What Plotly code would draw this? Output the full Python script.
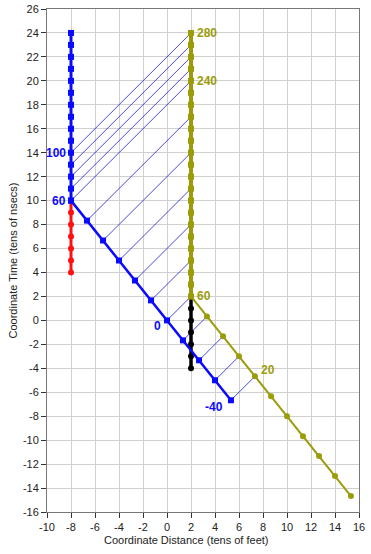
import plotly.graph_objects as go

# ---- data (tens of feet / tens of nsecs) ----
blue_vert_x = [-8] * 15
blue_vert_y = [10, 11, 12, 13, 14, 15, 16, 17, 18, 19, 20, 21, 22, 23, 24]

blue_diag_x = [-8, -6.67, -5.33, -4, -2.67, -1.33, 0, 1.33, 2.67, 4, 5.33]
blue_diag_y = [10, 8.33, 6.67, 5, 3.33, 1.67, 0, -1.67, -3.33, -5, -6.67]

red_x = [-8] * 7
red_y = [4, 5, 6, 7, 8, 9, 10]

olive_vert_x = [2] * 23
olive_vert_y = [2, 3, 4, 5, 6, 7, 8, 9, 10, 11, 12, 13, 14, 15, 16, 17, 18, 19, 20, 21, 22, 23, 24]

olive_diag_x = [2, 3.33, 4.67, 6, 7.33, 8.67, 10, 11.33, 12.67, 14, 15.33]
olive_diag_y = [2, 0.33, -1.33, -3, -4.67, -6.33, -8, -9.67, -11.33, -13, -14.67]

black_x = [2] * 7
black_y = [-4, -3, -2, -1, 0, 1, 2]

# light signals: start (blue worldline) -> end (olive worldline)
sig_x0 = [-8, -8, -8, -8, -8, -6.67, -5.33, -4, -2.67, -1.33, 0, 1.33, 2.67, 4, 5.33]
sig_y0 = [10, 11, 12, 13, 14, 8.33, 6.67, 5, 3.33, 1.67, 0, -1.67, -3.33, -5, -6.67]
sig_x1 = [2, 2, 2, 2, 2, 2, 2, 2, 2, 2, 2, 3.33, 4.67, 6, 7.33]
sig_y1 = [20, 21, 22, 23, 24, 17, 14, 11, 8, 5, 2, 0.33, -1.33, -3, -4.67]

# proper-time labels
blue_lbl_text = ["100", "60", "0", "-40"]
blue_lbl_x = [-8, -8, 0, 5.33]
blue_lbl_y = [14, 10, 0, -6.67]
olive_lbl_text = ["280", "240", "60", "20"]
olive_lbl_x = [2, 2, 2, 7.33]
olive_lbl_y = [24, 20, 2, -4.67]

x_ticks = list(range(-10, 17, 2))
y_ticks = list(range(-16, 27, 2))
x_ticklabels = [str(v) for v in x_ticks]
y_ticklabels = [str(v) for v in y_ticks]

BLUE = "#0a0aff"
OLIVE = "#9c9c0a"
RED = "#ff1010"
FONT = "Liberation Sans, Arial"

fig = go.Figure()

sx, sy = [], []
for a, b, c, d in zip(sig_x0, sig_y0, sig_x1, sig_y1):
    sx += [a, c, None]
    sy += [b, d, None]
fig.add_trace(go.Scatter(x=sx, y=sy, mode="lines",
                         line=dict(color="#1a1ad0", width=0.8), hoverinfo="skip"))

fig.add_trace(go.Scatter(x=red_x, y=red_y, mode="lines+markers",
                         line=dict(color=RED, width=3),
                         marker=dict(color=RED, size=6)))
fig.add_trace(go.Scatter(x=black_x, y=black_y, mode="lines+markers",
                         line=dict(color="black", width=3.5),
                         marker=dict(color="black", size=6)))
fig.add_trace(go.Scatter(x=olive_diag_x, y=olive_diag_y, mode="lines+markers",
                         line=dict(color=OLIVE, width=2),
                         marker=dict(color=OLIVE, size=6)))
fig.add_trace(go.Scatter(x=olive_vert_x, y=olive_vert_y, mode="lines+markers",
                         line=dict(color=OLIVE, width=4),
                         marker=dict(color=OLIVE, size=6, symbol="square")))
fig.add_trace(go.Scatter(x=blue_vert_x, y=blue_vert_y, mode="lines+markers",
                         line=dict(color=BLUE, width=3),
                         marker=dict(color=BLUE, size=6, symbol="square")))
fig.add_trace(go.Scatter(x=blue_diag_x, y=blue_diag_y, mode="lines+markers",
                         line=dict(color=BLUE, width=2.5),
                         marker=dict(color=BLUE, size=6, symbol="square")))

lblfont = dict(family=FONT, size=12)
blue_shift = [(-3, 0), (-3, 0), (-4, 6), (-6, 7)]
for t, x, y, (dx, dy) in zip(blue_lbl_text, blue_lbl_x, blue_lbl_y, blue_shift):
    fig.add_annotation(x=x, y=y, text="<b>" + t + "</b>", showarrow=False,
                       xanchor="right", yanchor="middle", xshift=dx, yshift=-dy,
                       font=dict(color=BLUE, **lblfont))
olive_shift = [(4, 0), (4, 0), (4, 0), (4, 6)]
for t, x, y, (dx, dy) in zip(olive_lbl_text, olive_lbl_x, olive_lbl_y, olive_shift):
    fig.add_annotation(x=x, y=y, text="<b>" + t + "</b>", showarrow=False,
                       xanchor="left", yanchor="middle", xshift=dx, yshift=dy,
                       font=dict(color=OLIVE, **lblfont))

fig.add_annotation(x=0.444, y=-0.0557, xref="paper", yref="paper",
                   text="Coordinate Distance (tens of feet)", showarrow=False,
                   xanchor="center", yanchor="middle",
                   font=dict(family=FONT, size=11, color="#222"))
fig.add_annotation(x=-0.109, y=0.5, xref="paper", yref="paper",
                   text="Coordinate Time (tens of nsecs)", showarrow=False,
                   textangle=-90, xanchor="center", yanchor="middle",
                   font=dict(family=FONT, size=11, color="#222"))

axis_common = dict(showgrid=True, gridcolor="#d0d0d0", gridwidth=1,
                   showline=True, linecolor="#777", linewidth=1, mirror=True,
                   ticks="outside", ticklen=5, tickcolor="#333", zeroline=False,
                   automargin=False,
                   tickfont=dict(family=FONT, size=11, color="#222"))

fig.update_xaxes(range=[-10, 16], tickvals=x_ticks, ticktext=x_ticklabels, **axis_common)
fig.update_yaxes(range=[-16, 26], tickvals=y_ticks, ticktext=y_ticklabels, **axis_common)

fig.update_layout(width=371, height=554, showlegend=False,
                  margin=dict(l=47, r=12, t=9, b=42),
                  paper_bgcolor="white", plot_bgcolor="white")

fig.write_html("out.html", config={"displayModeBar": False},
               post_script="document.body.style.margin='0';")
